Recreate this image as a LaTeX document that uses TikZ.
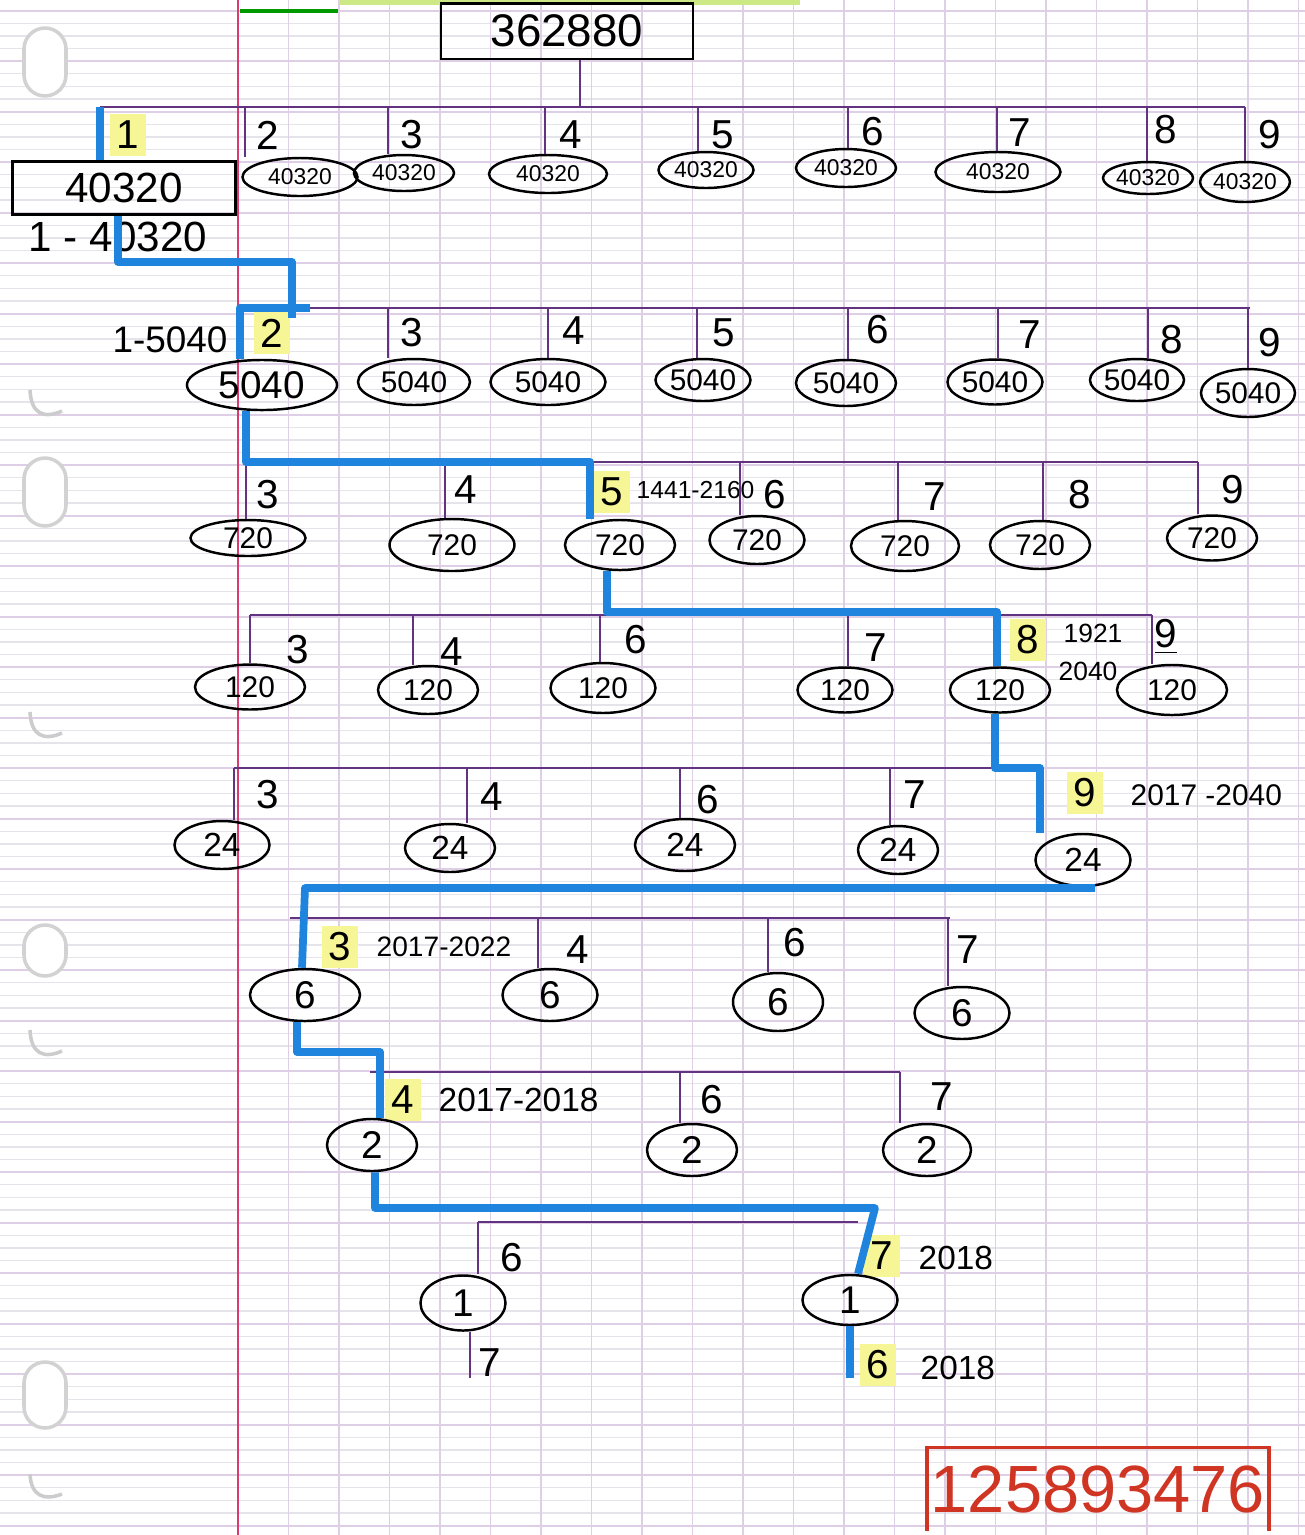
\documentclass[tikz,border=0pt]{standalone}
\usepackage{fontspec}
\setmainfont{Liberation Sans}
\usetikzlibrary{shapes.geometric}
\definecolor{treeviolet}{RGB}{98,52,128}
\definecolor{pathblue}{RGB}{30,132,222}
\definecolor{marker}{RGB}{246,246,150}
\definecolor{inkred}{RGB}{208,52,34}
\definecolor{gridgray}{RGB}{228,228,234}
\definecolor{gridpink}{RGB}{222,206,230}
\definecolor{marginred}{RGB}{214,60,110}

\begin{document}
\begin{tikzpicture}[x=0.01cm,y=-0.01cm]
	\tikzstyle{gridline} = [gridgray, line width=0.35pt]
	\tikzstyle{gridmajor} = [gridpink, line width=0.5pt]
	\tikzstyle{hole} = [fill=white, draw=gray!35, line width=1pt, rounded corners=6pt]
	\tikzstyle{holeedge} = [gray!40, line width=1pt]
	\tikzstyle{branch} = [treeviolet, line width=0.8pt]
	\tikzstyle{best} = [pathblue, line width=2.2pt, line join=round]
	\tikzstyle{ell} = [ellipse, draw=black, line width=0.7pt, inner sep=0pt]
	\tikzstyle{lab} = [font=\fontsize{11.5}{13}\selectfont, inner sep=1pt]
	\tikzstyle{pick} = [lab, fill=marker, inner sep=2pt]
	\tikzstyle{note} = [font=\fontsize{8}{10}\selectfont, inner sep=0pt, anchor=west]
	\useasboundingbox (0,0) rectangle (1305,1535);
	\fill[white] (0,0) rectangle (1305,1535);
	% squared paper
	\foreach \k in {0,...,120} {
		\pgfmathsetmacro\yy{10.7+12.625*\k}
		\draw[gridline] (0,\yy) -- (1305,\yy);
	}
	\foreach \k in {0,4,...,120} {
		\pgfmathsetmacro\yy{10.7+12.625*\k}
		\draw[gridmajor] (0,\yy) -- (1305,\yy);
	}
	\foreach \k in {1,...,21} {
		\pgfmathsetmacro\xx{238+50.5*\k}
		\draw[gridmajor] (\xx,0) -- (\xx,1535);
	}
	\draw[marginred, line width=0.7pt] (238,0) -- (238,1535);
	\draw[green!60!black, line width=1.2pt] (240,11) -- (338,11);
	\draw[yellow!60!green!50, line width=1.5pt] (340,2) -- (800,2);
	\draw[hole] (24,28) rectangle (66,96);
	\draw[hole] (24,458) rectangle (66,526);
	\draw[hole] (24,925) rectangle (66,976);
	\draw[hole] (24,1362) rectangle (66,1428);
	\draw[holeedge] (30,390) .. controls (31,414) and (44,419) .. (62,411);
	\draw[holeedge] (30,712) .. controls (31,736) and (44,741) .. (62,733);
	\draw[holeedge] (30,1030) .. controls (31,1054) and (44,1059) .. (62,1051);
	\draw[holeedge] (30,1474) .. controls (31,1496) and (44,1501) .. (62,1494);

	% root
	\node (root)[rectangle, draw, line width=0.8pt, minimum width=2.52cm, minimum height=0.52cm, font=\fontsize{13}{15}\selectfont] at (567,31) {362880};
	\coordinate (t0) at (580,107);
	\draw[branch] (t0 |- root.south) -- (t0);

	% level 1
	\coordinate (b1w) at (100,107);
	\coordinate (b1e) at (1245,107);
	\draw[branch] (b1w) -- (b1e);
	\coordinate (t1n1) at (100,107);
	\node (l1n1)[pick] at (128,135) {1};
	\node (box1)[rectangle, draw, line width=0.8pt, minimum width=2.23cm, minimum height=0.45cm, font=\fontsize{12}{14}\selectfont] at (124,188) {40320};
	\node (r1)[font=\fontsize{12}{14}\selectfont] at (118,237) {1 - 40320};
	\draw[best] (t1n1) -- (t1n1 |- box1.north);
	\foreach \d/\sx/\lx/\ly/\ex/\ey/\ew/\eh in {2/245/268/135/300/177/115/38, 3/388/412/135/404/173/100/36,
		4/545/571/135/548/174/118/38, 5/698/723/135/706/170/95/36, 6/848/873/132/846/168/100/38,
		7/997/1020/133/998/172/125/40, 8/1147/1166/130/1148/178/90/32, 9/1245/1270/135/1245/182/75/40} {
		\coordinate (t1n\d) at (\sx,107);
		\node (l1n\d)[lab] at (\lx,\ly) {\d};
		\node (e1n\d)[ell, font=\fontsize{6.5}{8}\selectfont, minimum width=\ew*0.01cm, minimum height=\eh*0.01cm] at (\ex,\ey) {40320};
		\draw[branch] (t1n\d) -- (t1n\d |- e1n\d.north);
	}

	% level 2
	\coordinate (b2w) at (240,308);
	\coordinate (b2e) at (1250,308);
	\draw[branch] (b2w) -- (b2e);
	\node (r2)[font=\fontsize{10.5}{12}\selectfont] at (170,340) {1-5040};
	\coordinate (t2n2) at (240,308);
	\node (l2n2)[pick] at (272,333) {2};
	\node (e2n2)[ell, font=\fontsize{11}{13}\selectfont, minimum width=1.5cm, minimum height=0.5cm] at (262,385) {5040};
	\foreach \d/\sx/\lx/\ly/\ex/\ey/\ew/\eh in {3/388/412/333/414/382/112/46, 4/548/574/331/548/382/115/46,
		5/697/724/333/703/380/95/42, 6/848/878/330/846/383/100/46, 7/998/1030/335/995/382/95/45,
		8/1148/1172/340/1137/380/92/42, 9/1248/1270/343/1248/393/85/48} {
		\coordinate (t2n\d) at (\sx,308);
		\node (l2n\d)[lab] at (\lx,\ly) {\d};
		\node (e2n\d)[ell, font=\fontsize{8.5}{10}\selectfont, minimum width=\ew*0.01cm, minimum height=\eh*0.01cm] at (\ex,\ey) {5040};
		\draw[branch] (t2n\d) -- (t2n\d |- e2n\d.north);
	}
	\coordinate (c1) at (118,262);
	\coordinate (c2) at (292,262);
	\coordinate (c3) at (292,318);
	\coordinate (c4) at (310,308);
	\draw[best] (c1 |- box1.south) -- (c1) -- (c2) -- (c3);
	\draw[best] (c4) -- (t2n2) -- (t2n2 |- e2n2.north);

	% level 3
	\coordinate (b3w) at (246,462);
	\coordinate (b3e) at (1198,462);
	\draw[branch] (b3w) -- (b3e);
	\coordinate (t3n5) at (590,462);
	\node (l3n5)[pick] at (612,492) {5};
	\node (n3n5)[note, font=\fontsize{7}{9}\selectfont] at (636,490) {1441-2160};
	\node (e3n5)[ell, font=\fontsize{8.5}{10}\selectfont, minimum width=1.1cm, minimum height=0.5cm] at (620,545) {720};
	\foreach \d/\sx/\lx/\ly/\ex/\ey/\ew/\eh in {3/246/268/495/248/538/115/36, 4/445/466/490/452/545/125/52,
		6/740/775/495/757/540/95/48, 7/898/935/497/905/546/108/50, 8/1043/1080/495/1040/545/100/48,
		9/1198/1233/490/1212/538/90/45} {
		\coordinate (t3n\d) at (\sx,462);
		\node (l3n\d)[lab] at (\lx,\ly) {\d};
		\node (e3n\d)[ell, font=\fontsize{8.5}{10}\selectfont, minimum width=\ew*0.01cm, minimum height=\eh*0.01cm] at (\ex,\ey) {720};
		\draw[branch] (t3n\d) -- (t3n\d |- e3n\d.north);
	}
	\draw[best] (t3n3 |- e2n2.south) -- (t3n3) -- (t3n5) -- (t3n5 |- e3n5.north);

	% level 4
	\coordinate (b4w) at (250,615);
	\coordinate (b4e) at (1152,615);
	\draw[branch] (b4w) -- (b4e);
	\coordinate (t4n8) at (997,615);
	\node (l4n8)[pick] at (1028,640) {8};
	\node (n4n8a)[note, font=\fontsize{7.5}{9}\selectfont] at (1063,633) {1921};
	\node (n4n8b)[note, font=\fontsize{7.5}{9}\selectfont] at (1058,671) {2040};
	\node (e4n8)[ell, font=\fontsize{8.5}{10}\selectfont, minimum width=1cm, minimum height=0.45cm] at (1000,690) {120};
	\foreach \d/\sx/\lx/\ly/\ex/\ey/\ew/\eh in {3/250/298/650/250/687/110/45, 4/413/452/652/428/690/100/48,
		6/600/636/640/603/688/105/50, 7/848/876/648/845/690/95/45} {
		\coordinate (t4n\d) at (\sx,615);
		\node (l4n\d)[lab] at (\lx,\ly) {\d};
		\node (e4n\d)[ell, font=\fontsize{8.5}{10}\selectfont, minimum width=\ew*0.01cm, minimum height=\eh*0.01cm] at (\ex,\ey) {120};
		\draw[branch] (t4n\d) -- (t4n\d |- e4n\d.north);
	}
	\coordinate (t4n9) at (1152,615);
	\node (l4n9)[lab] at (1166,637) {\underline{9}};
	\node (e4n9)[ell, font=\fontsize{8.5}{10}\selectfont, minimum width=1.1cm, minimum height=0.5cm] at (1172,690) {120};
	\draw[branch] (t4n9) -- (t4n9 |- e4n9.north);
	\coordinate (c5) at (607,612);
	\coordinate (c6) at (997,612);
	\draw[best] (c5 |- e3n5.south) -- (c5) -- (c6) -- (t4n8 |- e4n8.north);

	% level 5
	\coordinate (b5w) at (234,768);
	\coordinate (b5e) at (1040,768);
	\draw[branch] (b5w) -- (b5e);
	\coordinate (t5n9) at (1040,768);
	\node (l5n9)[pick] at (1085,793) {9};
	\node (n5n9)[note, font=\fontsize{8.5}{10}\selectfont] at (1130,795) {2017 -2040};
	\node (e5n9)[ell, font=\fontsize{9.5}{11}\selectfont, minimum width=0.95cm, minimum height=0.52cm] at (1083,860) {24};
	\foreach \d/\sx/\lx/\ly/\ex/\ey/\ew/\eh in {3/234/268/795/222/845/95/48, 4/467/492/797/450/848/90/48,
		6/680/708/800/685/845/100/52, 7/890/915/795/898/850/80/48} {
		\coordinate (t5n\d) at (\sx,768);
		\node (l5n\d)[lab] at (\lx,\ly) {\d};
		\node (e5n\d)[ell, font=\fontsize{9.5}{11}\selectfont, minimum width=\ew*0.01cm, minimum height=\eh*0.01cm] at (\ex,\ey) {24};
		\draw[branch] (t5n\d) -- (t5n\d |- e5n\d.north);
	}
	\coordinate (c7) at (995,768);
	\draw[best] (c7 |- e4n8.south) -- (c7) -- (t5n9) -- (t5n9 |- e5n9.north);

	% level 6
	\coordinate (b6w) at (290,918);
	\coordinate (b6e) at (950,918);
	\draw[branch] (b6w) -- (b6e);
	\coordinate (t6n3) at (302,918);
	\node (l6n3)[pick] at (340,947) {3};
	\node (n6n3)[note] at (376,947) {2017-2022};
	\node (e6n3)[ell, font=\fontsize{11}{13}\selectfont, minimum width=1.1cm, minimum height=0.52cm] at (305,995) {6};
	\foreach \d/\sx/\lx/\ly/\ex/\ey/\ew/\eh in {4/538/578/950/550/995/95/52, 6/768/795/943/778/1002/90/58,
		7/948/968/950/962/1013/95/52} {
		\coordinate (t6n\d) at (\sx,918);
		\node (l6n\d)[lab] at (\lx,\ly) {\d};
		\node (e6n\d)[ell, font=\fontsize{11}{13}\selectfont, minimum width=\ew*0.01cm, minimum height=\eh*0.01cm] at (\ex,\ey) {6};
		\draw[branch] (t6n\d) -- (t6n\d |- e6n\d.north);
	}
	\coordinate (c9) at (1095,888);
	\coordinate (c10) at (305,888);
	\draw[best] (c9) -- (c10) -- (t6n3 |- e6n3.north);

	% level 7
	\coordinate (b7w) at (370,1072);
	\coordinate (b7e) at (900,1072);
	\draw[branch] (b7w) -- (b7e);
	\coordinate (t7n4) at (380,1072);
	\node (l7n4)[pick] at (403,1100) {4};
	\node (n7n4)[note, font=\fontsize{9.5}{11}\selectfont] at (438,1100) {2017-2018};
	\node (e7n4)[ell, font=\fontsize{11}{13}\selectfont, minimum width=0.9cm, minimum height=0.52cm] at (372,1145) {2};
	\foreach \d/\sx/\lx/\ly/\ex/\ey/\ew/\eh in {6/680/712/1100/692/1150/90/52, 7/900/942/1097/927/1150/88/52} {
		\coordinate (t7n\d) at (\sx,1072);
		\node (l7n\d)[lab] at (\lx,\ly) {\d};
		\node (e7n\d)[ell, font=\fontsize{11}{13}\selectfont, minimum width=\ew*0.01cm, minimum height=\eh*0.01cm] at (\ex,\ey) {2};
		\draw[branch] (t7n\d) -- (t7n\d |- e7n\d.north);
	}
	\coordinate (c11) at (297,1052);
	\coordinate (c12) at (380,1052);
	\draw[best] (c11 |- e6n3.south) -- (c11) -- (c12) -- (t7n4 |- e7n4.north);

	% level 8
	\coordinate (b8w) at (478,1222);
	\coordinate (b8e) at (858,1222);
	\draw[branch] (b8w) -- (b8e);
	\coordinate (t8n6) at (478,1222);
	\node (l8n6)[lab] at (512,1258) {6};
	\node (e8n6)[ell, font=\fontsize{11}{13}\selectfont, minimum width=0.85cm, minimum height=0.55cm] at (463,1303) {1};
	\draw[branch] (t8n6) -- (t8n6 |- e8n6.north);
	\coordinate (t8n7) at (858,1222);
	\node (l8n7)[pick] at (882,1256) {7};
	\node (n8n7)[note, font=\fontsize{9.5}{11}\selectfont] at (918,1258) {2018};
	\node (e8n7)[ell, font=\fontsize{11}{13}\selectfont, minimum width=0.95cm, minimum height=0.5cm] at (850,1300) {1};
	\coordinate (c13) at (375,1208);
	\coordinate (c14) at (875,1208);
	\draw[best] (c13 |- e7n4.south) -- (c13) -- (c14) -- (t8n7 |- e8n7.north);

	% last step
	\coordinate (t9n7) at (470,1378);
	\draw[branch] (t9n7 |- e8n6.south) -- (t9n7);
	\node (l9n7)[lab] at (490,1363) {7};
	\coordinate (t9n6) at (850,1378);
	\draw[best] (e8n7.south) -- (t9n6);
	\node (l9n6)[pick] at (878,1365) {6};
	\node (n9n6)[note, font=\fontsize{9.5}{11}\selectfont] at (920,1368) {2018};

	% answer
	\node (ans)[text=inkred, inner sep=0pt, font=\fontsize{19}{22}\selectfont, minimum width=3.4cm, minimum height=0.82cm] at (1098,1489) {125893476};
	\draw[inkred, line width=1pt] (ans.south west) -- (ans.north west) -- (ans.north east) -- (ans.south east);
\end{tikzpicture}
\end{document}
